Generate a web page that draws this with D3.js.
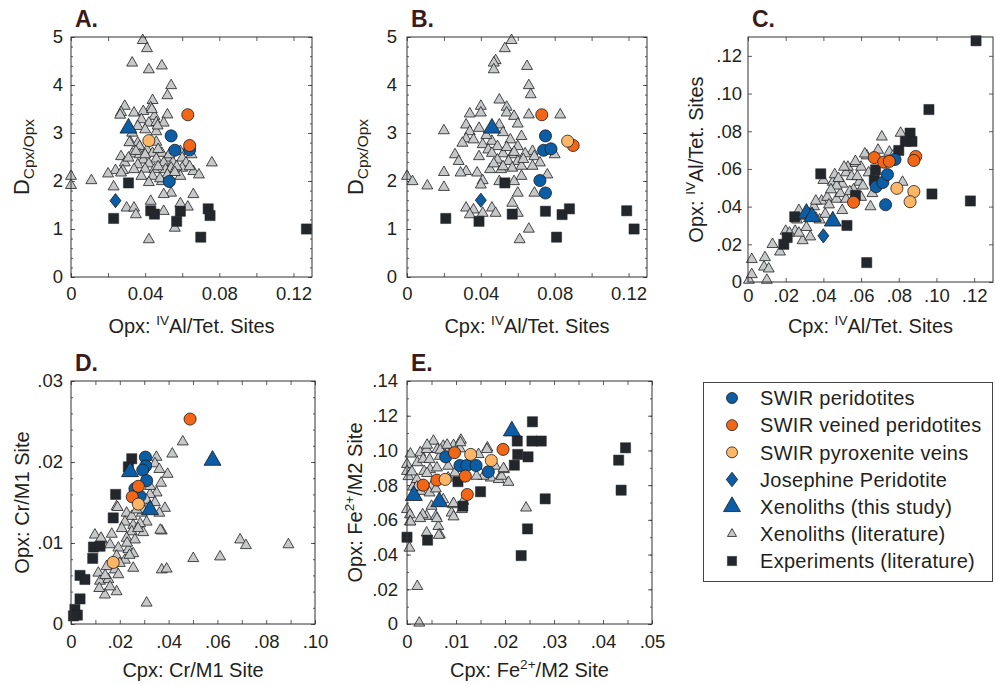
<!DOCTYPE html>
<html>
<head>
<meta charset="utf-8">
<script src="https://cdn.jsdelivr.net/npm/d3@7/dist/d3.min.js"></script>
<style>
html, body { margin: 0; padding: 0; background: #fff; }
svg { display: block; font-family: "Liberation Sans", Arial, Helvetica, sans-serif; }
</style>
</head>
<body>
<svg id="fig" width="995" height="685"></svg>
<script>
// ---------------- data ----------------
const seriesLabels = ["SWIR peridotites", "SWIR veined peridotites", "SWIR pyroxenite veins",
  "Josephine Peridotite", "Xenoliths (this study)", "Xenoliths (literature)", "Experiments (literature)"];

// Panel A: Opx IVAl/Tet. sites vs D(Cpx/Opx)
const aXenoLit = [[0.0387,4.93],[0.041,4.76],[0.033,4.46],[0.042,4.32],[0.049,4.40],[0.054,3.99],[0.052,3.78],[0.044,3.68],[0.029,3.56],[0.043,3.53],[0.027,3.43],[0.034,3.42],[0.039,3.45],[0.045,3.35],[0.052,3.38],[0.038,3.28],[0.042,3.21],[0.046,3.22],[0.050,3.21],[0.036,3.14],[0.040,3.07],[0.046,3.03],[0.033,3.00],[0.032,2.81],[0.036,2.79],[0.046,2.81],[0.037,2.72],[0.041,2.65],[0.033,2.57],[0.037,2.55],[0.044,2.58],[0.049,2.58],[0.059,2.62],[0.027,2.51],[0.039,2.44],[0.046,2.46],[0.052,2.48],[0.060,2.48],[0.065,2.55],[0.029,2.38],[0.036,2.34],[0.042,2.36],[0.050,2.38],[0.055,2.39],[0.062,2.38],[0.076,2.38],[0.024,2.22],[0.028,2.22],[0.034,2.24],[0.040,2.25],[0.045,2.24],[0.051,2.24],[0.054,2.27],[0.060,2.27],[0.020,2.15],[0.027,2.17],[0.038,2.10],[0.044,2.10],[0.052,2.13],[0.059,2.10],[0.066,2.20],[0.069,2.13],[0.042,1.97],[0.049,1.99],[0.000,2.10],[0.000,1.91],[0.011,2.01],[0.023,1.88],[0.054,1.75],[0.050,1.72],[0.066,1.72],[0.043,1.58],[0.059,1.53],[0.063,1.46],[0.030,1.44],[0.034,1.44],[0.035,1.30],[0.050,1.37],[0.056,1.02],[0.042,0.78],[0.0265,3.375],[0.0436,3.49],[0.0467,3.15],[0.0315,2.80],[0.047,2.30],[0.053,2.55],[0.057,2.30],[0.048,2.05],[0.064,2.30],[0.040,2.55],[0.035,2.62],[0.031,2.48],[0.047,2.66],[0.056,2.18]];
const aExper = [[0.031,1.96],[0.023,1.22],[0.043,1.38],[0.045,1.31],[0.059,1.37],[0.057,1.16],[0.074,1.42],[0.075,1.28],[0.070,0.83],[0.127,1.00]];
const aSwirPerid = [[0.054,2.94],[0.056,2.64],[0.064,2.65],[0.053,1.99]];
const aSwirVeined = [[0.063,3.38],[0.064,2.74]];
const aSwirPyx = [[0.042,2.84]];
const aJosephine = [[0.024,1.59]];
const aXenoThis = [[0.031,3.10]];

// Panel B: Cpx IVAl/Tet. sites vs D(Cpx/Opx)
const bXenoLit = [[0.0566,4.93],[0.053,4.76],[0.048,4.51],[0.047,4.46],[0.047,4.32],[0.065,4.39],[0.066,3.99],[0.067,3.80],[0.050,3.69],[0.040,3.56],[0.054,3.54],[0.034,3.40],[0.040,3.42],[0.054,3.42],[0.058,3.35],[0.066,3.38],[0.083,3.38],[0.020,3.05],[0.032,3.17],[0.034,3.03],[0.039,3.10],[0.050,3.17],[0.052,3.01],[0.060,3.19],[0.032,2.88],[0.036,2.86],[0.041,2.76],[0.046,2.83],[0.056,2.86],[0.062,2.93],[0.030,2.79],[0.044,2.65],[0.049,2.72],[0.060,2.72],[0.068,2.62],[0.026,2.55],[0.028,2.41],[0.039,2.51],[0.046,2.58],[0.052,2.57],[0.057,2.55],[0.064,2.57],[0.069,2.51],[0.080,2.55],[0.049,2.44],[0.055,2.41],[0.060,2.41],[0.072,2.38],[0.020,2.18],[0.032,2.20],[0.038,2.17],[0.045,2.24],[0.051,2.24],[0.057,2.27],[0.062,2.31],[0.068,2.31],[0.029,2.17],[0.041,2.01],[0.050,1.99],[0.062,2.10],[0.058,1.99],[0.076,2.13],[0.000,2.10],[0.003,1.99],[0.011,1.90],[0.020,1.87],[0.040,1.92],[0.060,1.75],[0.069,1.75],[0.057,1.54],[0.032,1.44],[0.036,1.40],[0.034,1.30],[0.041,1.33],[0.046,1.44],[0.048,1.33],[0.060,1.33],[0.066,1.00],[0.061,0.78],[0.054,2.70],[0.058,2.60],[0.063,2.45],[0.047,2.36],[0.043,2.95],[0.052,2.30]];
const bExper = [[0.053,1.96],[0.021,1.22],[0.039,1.16],[0.057,1.31],[0.075,1.37],[0.084,1.30],[0.088,1.42],[0.081,0.83],[0.119,1.38],[0.123,1.00]];
const bSwirPerid = [[0.075,2.94],[0.074,2.64],[0.078,2.67],[0.072,2.01],[0.075,1.75]];
const bSwirVeined = [[0.073,3.38],[0.090,2.74]];
const bSwirPyx = [[0.087,2.83]];
const bJosephine = [[0.040,1.60]];
const bXenoThis = [[0.046,3.10]];

// Panel C: Cpx vs Opx IVAl/Tet. sites
const cXenoLit = [[0.0005,0.001],[0.002,0.004],[0.002,0.012],[0.009,0.013],[0.0085,0.008],[0.011,0.007],[0.010,0.001],[0.013,0.020],[0.017,0.016],[0.020,0.027],[0.026,0.033],[0.025,0.027],[0.029,0.022],[0.031,0.029],[0.033,0.024],[0.027,0.038],[0.035,0.040],[0.039,0.043],[0.040,0.054],[0.038,0.033],[0.041,0.036],[0.042,0.045],[0.045,0.053],[0.047,0.044],[0.050,0.038],[0.049,0.047],[0.050,0.052],[0.052,0.058],[0.052,0.044],[0.053,0.061],[0.055,0.056],[0.057,0.063],[0.059,0.053],[0.060,0.061],[0.061,0.051],[0.063,0.067],[0.064,0.058],[0.065,0.040],[0.066,0.047],[0.069,0.070],[0.071,0.077],[0.075,0.069],[0.077,0.067],[0.081,0.079],[0.082,0.053],[0.056,0.049],[0.058,0.056],[0.047,0.051],[0.044,0.049],[0.036,0.043],[0.033,0.036],[0.030,0.035],[0.022,0.026],[0.027,0.026],[0.062,0.068],[0.057,0.064],[0.051,0.061],[0.046,0.057],[0.043,0.041],[0.054,0.048],[0.060,0.045],[0.036,0.034],[0.048,0.055]];
const cExper = [[0.121,0.128],[0.096,0.0915],[0.086,0.079],[0.087,0.0746],[0.0835,0.0746],[0.080,0.0698],[0.0976,0.0467],[0.118,0.043],[0.063,0.0103],[0.0386,0.0574],[0.0248,0.0346],[0.0208,0.0236],[0.019,0.020],[0.0525,0.030],[0.0677,0.0595],[0.067,0.054],[0.057,0.046]];
const cSwirPerid = [[0.068,0.0506],[0.0715,0.0528],[0.074,0.057],[0.078,0.065],[0.073,0.041]];
const cSwirVeined = [[0.067,0.066],[0.072,0.0636],[0.075,0.064],[0.089,0.0666],[0.088,0.0645],[0.056,0.0423]];
const cSwirPyx = [[0.079,0.0497],[0.088,0.048],[0.086,0.0426]];
const cJosephine = [[0.040,0.0245]];
const cXenoThis = [[0.031,0.0364],[0.034,0.0346],[0.045,0.0323]];

// Panel D: Cpx vs Opx Cr/M1 site
const dXenoLit = [[0.0458,0.0225],[0.0415,0.0210],[0.0350,0.0206],[0.0344,0.0198],[0.0362,0.0191],[0.0396,0.0185],[0.0369,0.0174],[0.0351,0.0162],[0.0324,0.0160],[0.0344,0.0150],[0.0317,0.0145],[0.0385,0.0143],[0.0362,0.0137],[0.0187,0.0145],[0.0228,0.0137],[0.0249,0.0133],[0.0290,0.0137],[0.0310,0.0126],[0.0221,0.0126],[0.0255,0.0122],[0.0283,0.0124],[0.0208,0.0118],[0.0249,0.0114],[0.0296,0.0113],[0.0372,0.0115],[0.0167,0.0111],[0.0228,0.0106],[0.0262,0.0104],[0.0126,0.0104],[0.0160,0.0098],[0.0194,0.0094],[0.0235,0.0092],[0.0255,0.0087],[0.0187,0.0084],[0.0221,0.0079],[0.0146,0.0071],[0.0112,0.0063],[0.0180,0.0067],[0.0255,0.0069],[0.0119,0.0053],[0.0153,0.0055],[0.0187,0.0040],[0.0139,0.0036],[0.0116,0.0044],[0.0160,0.0046],[0.0194,0.0061],[0.0310,0.0026],[0.0372,0.0067],[0.0392,0.0068],[0.0501,0.0081],[0.0611,0.0083],[0.0693,0.0104],[0.0717,0.0097],[0.0891,0.0098],[0.0098,0.0110],[0.0310,0.0153],[0.0324,0.0170],[0.0296,0.0141],[0.0269,0.0141],[0.0191,0.0144],[0.0123,0.0106],[0.0366,0.0116],[0.0230,0.0100],[0.0275,0.0118],[0.0200,0.0075],[0.0140,0.0060],[0.0240,0.0085]];
const dExper = [[0.0249,0.0204],[0.0235,0.0194],[0.0183,0.0160],[0.0173,0.0131],[0.0092,0.0095],[0.0119,0.0096],[0.0089,0.0081],[0.0037,0.0060],[0.0057,0.0055],[0.0037,0.0031],[0.0016,0.0018],[0.0026,0.0011],[0.0010,0.0010]];
const dSwirPerid = [[0.0305,0.0206],[0.0306,0.0195],[0.0294,0.0190],[0.0310,0.0177],[0.0262,0.0167],[0.0283,0.0158]];
const dSwirVeined = [[0.0488,0.0253],[0.0276,0.0170],[0.0251,0.0157]];
const dSwirPyx = [[0.0276,0.0148],[0.0173,0.0076]];
const dJosephine = [];
const dXenoThis = [[0.0242,0.0188],[0.0324,0.0141],[0.0580,0.0202]];

// Panel E: Cpx vs Opx Fe2+/M2 site
const eXenoLit = [[0.0000,0.092],[0.0000,0.088],[0.0003,0.085],[0.0000,0.066],[0.0006,0.063],[0.0006,0.059],[0.0005,0.0438],[0.0021,0.0217],[0.0025,0.0006],[0.0012,0.079],[0.0021,0.093],[0.0027,0.0987],[0.0033,0.095],[0.0040,0.1006],[0.0046,0.0948],[0.0054,0.1054],[0.0062,0.1006],[0.0067,0.0967],[0.0047,0.089],[0.0035,0.088],[0.0061,0.090],[0.0074,0.1025],[0.0082,0.0987],[0.0095,0.1029],[0.0110,0.106],[0.0108,0.101],[0.0084,0.091],[0.0098,0.0871],[0.0050,0.0794],[0.0020,0.0833],[0.0028,0.0765],[0.0046,0.0756],[0.0059,0.0779],[0.0074,0.0717],[0.0050,0.0679],[0.0040,0.0621],[0.0032,0.063],[0.0059,0.0621],[0.0064,0.0563],[0.0067,0.0515],[0.0040,0.0525],[0.0091,0.064],[0.0094,0.0688],[0.0115,0.0708],[0.0112,0.066],[0.0142,0.091],[0.0146,0.0977],[0.0164,0.1015],[0.0180,0.091],[0.0171,0.0842],[0.0187,0.0833],[0.0193,0.0852],[0.0198,0.089],[0.0207,0.0817],[0.0156,0.0852],[0.0142,0.0852],[0.0243,0.0669],[0.0084,0.0842],[0.0007,0.098],[0.0041,0.1031],[0.0068,0.1002],[0.0082,0.1031],[0.0109,0.1045],[0.0041,0.0868],[0.0010,0.0877],[0.0020,0.079],[0.0163,0.1006],[0.0197,0.0896],[0.0095,0.0695],[0.0095,0.0618],[0.0061,0.0608],[0.0065,0.0512],[0.0027,0.0608],[0.0007,0.0589]];
const eExper = [[0.0000,0.050],[0.0042,0.0483],[0.0114,0.0679],[0.0150,0.0762],[0.0219,0.0915],[0.0226,0.0977],[0.0225,0.1054],[0.0247,0.0963],[0.0256,0.1165],[0.0255,0.1054],[0.0274,0.1054],[0.0282,0.0721],[0.0246,0.0548],[0.0233,0.0394],[0.0432,0.0944],[0.0446,0.1015],[0.0437,0.0771],[0.0104,0.0820]];
const eSwirPerid = [[0.0079,0.0963],[0.0108,0.0913],[0.0122,0.0913],[0.0141,0.0913],[0.0166,0.0877]];
const eSwirVeined = [[0.0033,0.0800],[0.0061,0.0829],[0.0097,0.0987],[0.0119,0.0852],[0.0123,0.0746],[0.0196,0.1006]];
const eSwirPyx = [[0.0078,0.0833],[0.0130,0.0977],[0.0172,0.0942]];
const eJosephine = [];
const eXenoThis = [[0.0014,0.0740],[0.0066,0.0704],[0.0214,0.1112]];

// Axis ticks
const ticksA_x = [0, 0.04, 0.08, 0.12];
const ticksA_y = [0, 1, 2, 3, 4, 5];
const ticksC = [0, 0.02, 0.04, 0.06, 0.08, 0.10, 0.12];
const ticksD_x = [0, 0.02, 0.04, 0.06, 0.08, 0.10];
const ticksD_y = [0, 0.01, 0.02, 0.03];
const ticksE_x = [0, 0.01, 0.02, 0.03, 0.04, 0.05];
const ticksE_y = [0, 0.02, 0.04, 0.06, 0.08, 0.10, 0.12, 0.14];

// ---------------- drawing ----------------
const svg = d3.select("#fig");
const INK = "#231f20";

// diamond a little wider than d3's built-in one
const wideDiamond = {
  draw(ctx, size) {
    const h = Math.sqrt(size / 1.6);   // half-height
    const w = h * 0.78;                // half-width
    ctx.moveTo(0, -h); ctx.lineTo(w, 0); ctx.lineTo(0, h); ctx.lineTo(-w, 0); ctx.closePath();
  }
};

// marker styles, in drawing order (later ones on top)
const styles = {
  xenoLit:    { type: d3.symbolTriangle, size: 52,  fill: "#c6c8ca", stroke: "#1e1e1e", sw: 0.8 },
  experiments:{ type: d3.symbolSquare,   size: 104, fill: "#23262b", stroke: "#23262b", sw: 0.5 },
  swirPerid:  { type: d3.symbolCircle,   size: 115, fill: "#0b5ea6", stroke: "#1a1a1a", sw: 0.8 },
  swirVeined: { type: d3.symbolCircle,   size: 115, fill: "#f26618", stroke: "#1a1a1a", sw: 0.8 },
  swirPyx:    { type: d3.symbolCircle,   size: 115, fill: "#fdb666", stroke: "#1a1a1a", sw: 0.8 },
  josephine:  { type: wideDiamond,       size: 80,  fill: "#0b5ea6", stroke: "#1a1a1a", sw: 0.8 },
  xenoThis:   { type: d3.symbolTriangle, size: 125, fill: "#0b5ea6", stroke: "#1a1a1a", sw: 0.8 }
};
const order = ["xenoLit", "experiments", "swirPerid", "swirVeined", "swirPyx", "josephine", "xenoThis"];

const fmtLead = v => v === 0 ? "0" : d3.format(".2f")(v).replace(/^0/, "");
const fmtA = v => v === 0 ? "0" : d3.format(".2f")(v);
const fmtInt = v => String(v);

const panels = [
  { id: "A.", box: { x: 71, y: 37, w: 241, h: 240 }, xDom: [0, 0.13], yDom: [0, 5],
    xT: ticksA_x, xTick: d3.range(0, 0.13, 0.02), yT: ticksA_y, yTick: ticksA_y, yMinor: d3.range(0, 5.01, 0.2),
    fx: fmtA, fy: fmtInt, xPad: 10, yPad: 8,
    xTitle: ["Opx: ", "IV", "Al/Tet. Sites"], yTitle: "D", titleX: 29, titleYBase: 333,
    data: { xenoLit: aXenoLit, experiments: aExper, swirPerid: aSwirPerid, swirVeined: aSwirVeined, swirPyx: aSwirPyx, josephine: aJosephine, xenoThis: aXenoThis } },
  { id: "B.", box: { x: 407, y: 37, w: 240, h: 240 }, xDom: [0, 0.13], yDom: [0, 5],
    xT: ticksA_x, xTick: d3.range(0, 0.13, 0.02), yT: ticksA_y, yTick: ticksA_y, yMinor: d3.range(0, 5.01, 0.2),
    fx: fmtA, fy: fmtInt, xPad: 10, yPad: 10,
    xTitle: ["Cpx: ", "IV", "Al/Tet. Sites"], yTitle: "D", titleX: 363, titleYBase: 333,
    data: { xenoLit: bXenoLit, experiments: bExper, swirPerid: bSwirPerid, swirVeined: bSwirVeined, swirPyx: bSwirPyx, josephine: bJosephine, xenoThis: bXenoThis } },
  { id: "C.", box: { x: 748, y: 37, w: 245, h: 245 }, xDom: [0, 0.13], yDom: [0, 0.13],
    xT: ticksC, xTick: ticksC, yT: ticksC, yTick: ticksC, yMinor: [],
    fx: fmtLead, fy: fmtLead, xPad: 7, yPad: 6,
    xTitle: ["Cpx: ", "IV", "Al/Tet. Sites"], yTitle: ["Opx: ", "IV", "Al/Tet. Sites"], titleX: 703, titleYBase: 333,
    data: { xenoLit: cXenoLit, experiments: cExper, swirPerid: cSwirPerid, swirVeined: cSwirVeined, swirPyx: cSwirPyx, josephine: cJosephine, xenoThis: cXenoThis } },
  { id: "D.", box: { x: 71, y: 381, w: 244, h: 243 }, xDom: [0, 0.10], yDom: [0, 0.03],
    xT: ticksD_x, xTick: d3.range(0, 0.101, 0.01), yT: ticksD_y, yTick: ticksD_y, yMinor: d3.range(0, 0.0301, 0.002),
    fx: fmtLead, fy: fmtLead, xPad: 11, yPad: 8,
    xTitle: ["Cpx: Cr/M1 Site"], yTitle: ["Opx: Cr/M1 Site"], titleX: 29, titleYBase: 677,
    data: { xenoLit: dXenoLit, experiments: dExper, swirPerid: dSwirPerid, swirVeined: dSwirVeined, swirPyx: dSwirPyx, josephine: dJosephine, xenoThis: dXenoThis } },
  { id: "E.", box: { x: 407, y: 381, w: 245, h: 243 }, xDom: [0, 0.05], yDom: [0, 0.14],
    xT: ticksE_x, xTick: d3.range(0, 0.0501, 0.005), yT: ticksE_y, yTick: ticksE_y, yMinor: d3.range(0, 0.1401, 0.01),
    fx: fmtLead, fy: fmtLead, xPad: 11, yPad: 9,
    xTitle: ["Cpx: Fe", "2+", "/M2 Site"], yTitle: ["Opx: Fe", "2+", "/M2 Site"], titleX: 362, titleYBase: 677,
    data: { xenoLit: eXenoLit, experiments: eExper, swirPerid: eSwirPerid, swirVeined: eSwirVeined, swirPyx: eSwirPyx, josephine: eJosephine, xenoThis: eXenoThis } }
];

const TITLE = 20, TICK = 18.5, LEGEND = 20;

function addTitleText(sel, parts, size) {
  // parts: [plain, superscript, plain]
  sel.append("tspan").text(parts[0]);
  if (parts.length > 1) {
    sel.append("tspan").attr("font-size", size * 0.68).attr("dy", -size * 0.42).text(parts[1]);
    sel.append("tspan").attr("font-size", size).attr("dy", size * 0.42).text(parts[2]);
  }
}

panels.forEach(p => {
  const b = p.box;
  const x = d3.scaleLinear().domain(p.xDom).range([b.x, b.x + b.w]);
  const y = d3.scaleLinear().domain(p.yDom).range([b.y + b.h, b.y]);
  const g = svg.append("g");

  // inward ticks on all four sides
  const tickLen = 4, minorLen = 2;
  const mk = (axis, tr) => {
    const a = g.append("g").attr("transform", tr).call(axis);
    a.select(".domain").remove();
    a.selectAll("line").attr("stroke", "#333").attr("stroke-width", 0.8);
    a.selectAll("text").remove();
  };
  mk(d3.axisBottom(x).tickValues(p.xTick).tickSizeInner(-tickLen).tickSizeOuter(0), `translate(0,${b.y + b.h})`);
  mk(d3.axisTop(x).tickValues(p.xTick).tickSizeInner(-tickLen).tickSizeOuter(0), `translate(0,${b.y})`);
  mk(d3.axisLeft(y).tickValues(p.yTick).tickSizeInner(-tickLen).tickSizeOuter(0), `translate(${b.x},0)`);
  mk(d3.axisRight(y).tickValues(p.yTick).tickSizeInner(-tickLen).tickSizeOuter(0), `translate(${b.x + b.w},0)`);
  if (p.yMinor.length) {
    mk(d3.axisLeft(y).tickValues(p.yMinor).tickSizeInner(-minorLen).tickSizeOuter(0), `translate(${b.x},0)`);
    mk(d3.axisRight(y).tickValues(p.yMinor).tickSizeInner(-minorLen).tickSizeOuter(0), `translate(${b.x + b.w},0)`);
  }

  // tick labels
  const xl = g.append("g").attr("transform", `translate(0,${b.y + b.h})`)
    .call(d3.axisBottom(x).tickValues(p.xT).tickFormat(p.fx).tickSize(0).tickPadding(p.xPad));
  const yl = g.append("g").attr("transform", `translate(${b.x},0)`)
    .call(d3.axisLeft(y).tickValues(p.yT).tickFormat(p.fy).tickSize(0).tickPadding(p.yPad));
  [xl, yl].forEach(a => {
    a.select(".domain").remove();
    a.selectAll("text").attr("font-size", TICK).attr("fill", INK)
      .attr("font-family", '"Liberation Sans", Arial, Helvetica, sans-serif');
  });

  // markers
  const clipId = "clip" + p.id[0];
  g.append("clipPath").attr("id", clipId).append("rect")
    .attr("x", b.x - 8).attr("y", b.y - 8).attr("width", b.w + 16).attr("height", b.h + 16);
  const mg = g.append("g").attr("clip-path", `url(#${clipId})`);
  order.forEach(key => {
    const s = styles[key];
    const sym = d3.symbol().type(s.type).size(s.size);
    mg.selectAll(null).data(p.data[key]).join("path")
      .attr("d", sym)
      .attr("transform", d => `translate(${x(d[0])},${y(d[1])})`)
      .attr("fill", s.fill).attr("stroke", s.stroke).attr("stroke-width", s.sw);
  });

  // frame
  g.append("rect").attr("x", b.x).attr("y", b.y).attr("width", b.w).attr("height", b.h)
    .attr("fill", "none").attr("stroke", "#333").attr("stroke-width", 1);

  // panel letter
  g.append("text").attr("x", b.x + 4).attr("y", b.y - 10)
    .attr("font-size", 23).attr("font-weight", "bold").attr("fill", "#3b1a1a").text(p.id);

  // x title
  const xt = g.append("text").attr("x", b.x + b.w / 2).attr("y", p.titleYBase)
    .attr("text-anchor", "middle").attr("font-size", TITLE).attr("fill", INK);
  addTitleText(xt, p.xTitle, TITLE);

  // y title
  const cy = b.y + b.h / 2;
  const yt = g.append("text").attr("transform", `translate(${p.titleX},${cy}) rotate(-90)`)
    .attr("text-anchor", "middle").attr("font-size", TITLE).attr("fill", INK);
  if (p.yTitle === "D") {
    yt.append("tspan").attr("font-size", 22).text("D");
    yt.append("tspan").attr("font-size", 15.5).attr("dy", 5).text("Cpx/Opx");
  } else {
    addTitleText(yt, p.yTitle, TITLE);
  }
});

// legend
const leg = svg.append("g");
leg.append("rect").attr("x", 703.5).attr("y", 382.5).attr("width", 289).attr("height", 199)
  .attr("fill", "#fff").attr("stroke", "#444").attr("stroke-width", 1);
const legendKeys = ["swirPerid", "swirVeined", "swirPyx", "josephine", "xenoThis", "xenoLit", "experiments"];
const legendSizes = { swirPerid: 95, swirVeined: 95, swirPyx: 95, josephine: 85, xenoThis: 125, xenoLit: 36, experiments: 85 };
const rowY = d3.scaleLinear().domain([0, 6]).range([398, 561]);
legendKeys.forEach((k, i) => {
  const s = styles[k];
  leg.append("path").attr("d", d3.symbol().type(s.type).size(legendSizes[k]))
    .attr("transform", `translate(732,${rowY(i)})`)
    .attr("fill", s.fill).attr("stroke", s.stroke).attr("stroke-width", s.sw);
  leg.append("text").attr("x", 760).attr("y", rowY(i)).attr("dy", "0.36em")
    .attr("font-size", LEGEND).attr("letter-spacing", 0.3).attr("fill", INK).text(seriesLabels[i]);
});
</script>
</body>
</html>
